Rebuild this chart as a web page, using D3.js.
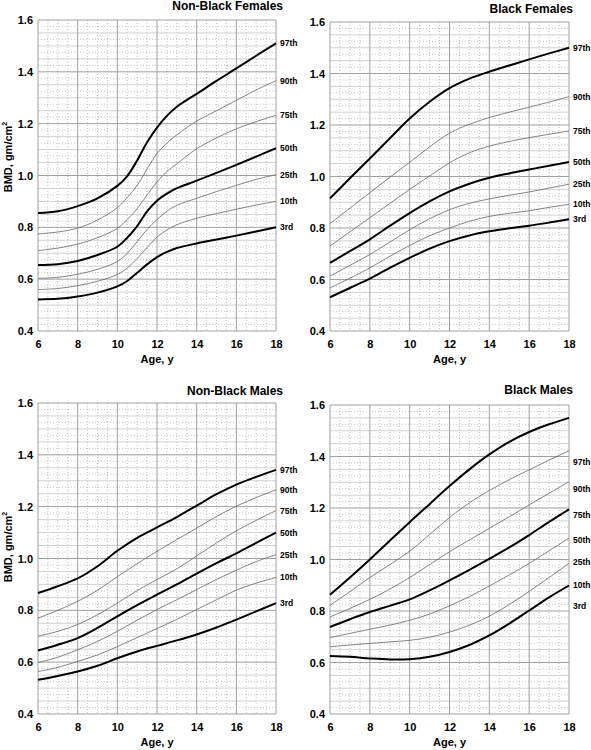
<!DOCTYPE html>
<html>
<head>
<meta charset="utf-8">
<script src="https://cdn.jsdelivr.net/npm/d3@7"></script>
<style>
  html, body { margin: 0; padding: 0; background: #fff; }
  svg { display: block; font-family: Arial, "Liberation Sans", sans-serif; }
</style>
</head>
<body>
<svg id="chart" width="591" height="750"></svg>
<script>
// ---------- data ----------
const percentiles = ["97th", "90th", "75th", "50th", "25th", "10th", "3rd"];
const thickPercentiles = ["97th", "50th", "3rd"];

const agesNBF = [6, 7, 8, 9, 10, 10.5, 11, 11.5, 12, 12.5, 13, 14, 15, 16, 17, 18];
const ages = [6, 7, 8, 9, 10, 11, 12, 13, 14, 15, 16, 17, 18];

const xTicks = [6, 8, 10, 12, 14, 16, 18];
const yTicks = [0.4, 0.6, 0.8, 1.0, 1.2, 1.4, 1.6];

// Non-Black Females
const nbf97 = [0.855, 0.862, 0.882, 0.912, 0.960, 0.998, 1.058, 1.128, 1.185, 1.230, 1.265, 1.315, 1.365, 1.413, 1.462, 1.510];
const nbf90 = [0.775, 0.782, 0.797, 0.828, 0.876, 0.915, 0.962, 1.025, 1.085, 1.125, 1.157, 1.210, 1.250, 1.290, 1.330, 1.366];
const nbf75 = [0.710, 0.720, 0.735, 0.760, 0.796, 0.830, 0.872, 0.925, 0.975, 1.015, 1.045, 1.103, 1.145, 1.180, 1.208, 1.232];
const nbf50 = [0.655, 0.658, 0.670, 0.693, 0.725, 0.760, 0.805, 0.862, 0.903, 0.930, 0.951, 0.980, 1.010, 1.041, 1.073, 1.105];
const nbf25 = [0.603, 0.607, 0.619, 0.638, 0.668, 0.700, 0.745, 0.792, 0.830, 0.862, 0.885, 0.912, 0.938, 0.962, 0.985, 1.003];
const nbf10 = [0.560, 0.564, 0.575, 0.592, 0.618, 0.643, 0.680, 0.722, 0.762, 0.790, 0.810, 0.835, 0.853, 0.870, 0.886, 0.900];
const nbf03 = [0.522, 0.524, 0.533, 0.548, 0.572, 0.593, 0.625, 0.657, 0.685, 0.705, 0.720, 0.738, 0.753, 0.768, 0.784, 0.800];

// Black Females
const bf97 = [0.915, 0.993, 1.070, 1.148, 1.225, 1.290, 1.343, 1.380, 1.407, 1.431, 1.455, 1.478, 1.500];
const bf90 = [0.817, 0.877, 0.937, 0.997, 1.055, 1.115, 1.168, 1.203, 1.229, 1.250, 1.269, 1.289, 1.310];
const bf75 = [0.730, 0.785, 0.840, 0.895, 0.950, 1.002, 1.053, 1.092, 1.118, 1.136, 1.151, 1.164, 1.177];
const bf50 = [0.665, 0.710, 0.756, 0.808, 0.858, 0.903, 0.942, 0.972, 0.995, 1.012, 1.027, 1.042, 1.056];
const bf25 = [0.613, 0.655, 0.697, 0.745, 0.793, 0.836, 0.871, 0.896, 0.913, 0.927, 0.940, 0.955, 0.970];
const bf10 = [0.567, 0.605, 0.645, 0.690, 0.732, 0.770, 0.800, 0.826, 0.845, 0.857, 0.867, 0.880, 0.892];
const bf03 = [0.531, 0.567, 0.603, 0.645, 0.684, 0.720, 0.749, 0.771, 0.787, 0.799, 0.809, 0.821, 0.834];

// Non-Black Males
const nbm97 = [0.867, 0.893, 0.923, 0.970, 1.030, 1.080, 1.120, 1.160, 1.204, 1.248, 1.285, 1.315, 1.342];
const nbm90 = [0.770, 0.800, 0.835, 0.877, 0.930, 0.980, 1.028, 1.073, 1.117, 1.162, 1.202, 1.235, 1.265];
const nbm75 = [0.700, 0.719, 0.745, 0.783, 0.828, 0.876, 0.919, 0.960, 1.010, 1.060, 1.107, 1.147, 1.185];
const nbm50 = [0.645, 0.667, 0.693, 0.732, 0.777, 0.820, 0.861, 0.900, 0.942, 0.982, 1.020, 1.060, 1.100];
const nbm25 = [0.598, 0.619, 0.648, 0.680, 0.719, 0.762, 0.803, 0.841, 0.880, 0.919, 0.955, 0.988, 1.015];
const nbm10 = [0.564, 0.580, 0.603, 0.628, 0.660, 0.695, 0.730, 0.765, 0.803, 0.841, 0.878, 0.905, 0.927];
const nbm03 = [0.532, 0.547, 0.564, 0.586, 0.615, 0.641, 0.663, 0.684, 0.707, 0.734, 0.764, 0.796, 0.828];

// Black Males
const bm97 = [0.863, 0.930, 1.000, 1.073, 1.145, 1.215, 1.285, 1.350, 1.408, 1.457, 1.495, 1.525, 1.550];
const bm90 = [0.822, 0.875, 0.930, 0.980, 1.032, 1.097, 1.163, 1.220, 1.268, 1.310, 1.348, 1.386, 1.422];
const bm75 = [0.777, 0.810, 0.845, 0.885, 0.930, 0.980, 1.030, 1.076, 1.121, 1.166, 1.212, 1.257, 1.302];
const bm50 = [0.738, 0.768, 0.796, 0.820, 0.845, 0.880, 0.919, 0.960, 1.003, 1.047, 1.095, 1.146, 1.195];
const bm25 = [0.697, 0.713, 0.729, 0.745, 0.764, 0.788, 0.820, 0.856, 0.897, 0.940, 0.985, 1.034, 1.083];
const bm10 = [0.661, 0.668, 0.674, 0.680, 0.686, 0.698, 0.718, 0.745, 0.780, 0.825, 0.876, 0.930, 0.985];
const bm03 = [0.625, 0.622, 0.616, 0.612, 0.613, 0.622, 0.641, 0.668, 0.705, 0.751, 0.802, 0.853, 0.899];
// In the Black Males panel the percentile labels sit at these BMD levels
const bmLabelLevels = [1.379, 1.273, 1.173, 1.074, 0.990, 0.900, 0.818];

const panelTitles = ["Non-Black Females", "Black Females", "Non-Black Males", "Black Males"];

// ---------- layout ----------
const panels = [
  { title: panelTitles[0], ages: agesNBF, series: [nbf97, nbf90, nbf75, nbf50, nbf25, nbf10, nbf03],
    x0: 38, x1: 276, top: 20, bottom: 331, titleX: 283, titleY: 9.5, yTitle: true, yTitleC: 157, labels: null },
  { title: panelTitles[1], ages: ages, series: [bf97, bf90, bf75, bf50, bf25, bf10, bf03],
    x0: 330, x1: 569, top: 22, bottom: 331, titleX: 573, titleY: 13, yTitle: false, labels: null },
  { title: panelTitles[2], ages: ages, series: [nbm97, nbm90, nbm75, nbm50, nbm25, nbm10, nbm03],
    x0: 38, x1: 276, top: 403, bottom: 714, titleX: 283, titleY: 395, yTitle: true, yTitleC: 547, labels: null },
  { title: panelTitles[3], ages: ages, series: [bm97, bm90, bm75, bm50, bm25, bm10, bm03],
    x0: 330, x1: 569, top: 405, bottom: 714, titleX: 573, titleY: 394, yTitle: false, labels: bmLabelLevels }
];

const svg = d3.select("#chart");
svg.append("rect").attr("width", 591).attr("height", 750).attr("fill", "#fff");

panels.forEach(p => {
  const x = d3.scaleLinear().domain([6, 18]).range([p.x0, p.x1]);
  const y = d3.scaleLinear().domain([0.4, 1.6]).range([p.bottom, p.top]);
  const g = svg.append("g");

  // grid
  const vMinor = d3.range(6, 18.01, 0.5).filter(a => Math.abs(a % 2) > 1e-6);
  const hAll = d3.range(0, 48.01, 1).map(i => 0.4 + i * 0.025);
  const hMinorDotted = hAll.filter((v, i) => i % 2 === 1);
  const hLight = hAll.filter((v, i) => i % 2 === 0 && i % 8 !== 0);
  const hMajor = hAll.filter((v, i) => i % 8 === 0);

  g.selectAll(".vmin").data(vMinor).join("line")
    .attr("x1", d => x(d)).attr("x2", d => x(d)).attr("y1", p.top).attr("y2", p.bottom)
    .attr("stroke", "#a8a8a8").attr("stroke-width", 0.7).attr("stroke-dasharray", "1,2");
  g.selectAll(".hmin").data(hMinorDotted).join("line")
    .attr("x1", p.x0).attr("x2", p.x1).attr("y1", d => y(d)).attr("y2", d => y(d))
    .attr("stroke", "#b0b0b0").attr("stroke-width", 0.7).attr("stroke-dasharray", "1,2");
  g.selectAll(".hlight").data(hLight).join("line")
    .attr("x1", p.x0).attr("x2", p.x1).attr("y1", d => y(d)).attr("y2", d => y(d))
    .attr("stroke", "#d2d2d2").attr("stroke-width", 1);
  g.selectAll(".vmaj").data(xTicks).join("line")
    .attr("x1", d => x(d)).attr("x2", d => x(d)).attr("y1", p.top).attr("y2", p.bottom)
    .attr("stroke", "#a0a0a0").attr("stroke-width", 1);
  g.selectAll(".hmaj").data(hMajor).join("line")
    .attr("x1", p.x0).attr("x2", p.x1).attr("y1", d => y(d)).attr("y2", d => y(d))
    .attr("stroke", "#a0a0a0").attr("stroke-width", 1);

  // axes (labels only)
  const xAxis = g.append("g").attr("transform", `translate(0,${p.bottom})`)
    .call(d3.axisBottom(x).tickValues(xTicks).tickSize(0).tickPadding(9).tickFormat(d3.format("d")));
  xAxis.select(".domain").remove();
  xAxis.selectAll("text").attr("font-size", 11).attr("font-weight", "bold").attr("fill", "#000")
    .attr("font-family", "Arial, 'Liberation Sans', sans-serif");

  const yAxis = g.append("g").attr("transform", `translate(${p.x0},0)`)
    .call(d3.axisLeft(y).tickValues(yTicks).tickSize(0).tickPadding(5).tickFormat(d3.format(".1f")));
  yAxis.select(".domain").remove();
  yAxis.selectAll("text").attr("font-size", 11).attr("font-weight", "bold").attr("fill", "#000")
    .attr("font-family", "Arial, 'Liberation Sans', sans-serif");

  // axis titles
  g.append("text").attr("x", (p.x0 + p.x1) / 2).attr("y", p.bottom + 32)
    .attr("text-anchor", "middle").attr("font-size", 11).attr("font-weight", "bold").text("Age, y");
  if (p.yTitle) {
    const t = g.append("text")
      .attr("transform", `translate(12,${p.yTitleC}) rotate(-90)`)
      .attr("text-anchor", "middle").attr("font-size", 11).attr("font-weight", "bold");
    t.append("tspan").text("BMD, gm/cm");
    t.append("tspan").attr("font-size", 7).attr("dy", -5).text("2");
  }

  // title
  g.append("text").attr("x", p.titleX).attr("y", p.titleY)
    .attr("text-anchor", "end").attr("font-size", 12).attr("font-weight", "bold").text(p.title);

  // curves
  const line = d3.line().x(d => x(d[0])).y(d => y(d[1])).curve(d3.curveCatmullRom.alpha(0.5));
  p.series.forEach((vals, i) => {
    const thick = thickPercentiles.includes(percentiles[i]);
    const pts = p.ages.map((a, k) => [a, vals[k]]);
    g.append("path").attr("d", line(pts)).attr("fill", "none")
      .attr("stroke", thick ? "#000" : "#666")
      .attr("stroke-width", thick ? 2 : 0.8)
      .attr("stroke-linejoin", "round");
    const lv = p.labels ? p.labels[i] : vals[vals.length - 1];
    g.append("text").attr("x", p.x1 + 4).attr("y", y(lv)).attr("dy", "0.35em")
      .attr("font-size", 8.5).attr("font-weight", "bold").text(percentiles[i]);
  });
});
</script>
</body>
</html>
